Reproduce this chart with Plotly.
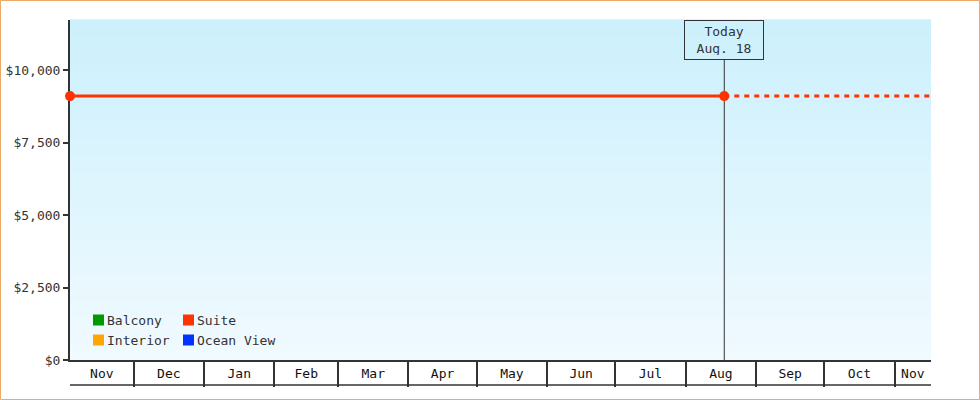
import pandas as pd
import plotly.graph_objects as go

# price history up to today, then the projection out to the end of the range
history_dates = ["2018-11-03", "2019-08-18"]
history_suite = [9100, 9100]
forecast_dates = ["2019-08-18", "2019-11-17"]
forecast_suite = [9100, 9100]

series_names = ["Balcony", "Suite", "Interior", "Ocean View"]
series_colors = ["#009900", "#ff3300", "#ffa500", "#0033ff"]

today = "2019-08-18"
today_label = "Today<br>Aug. 18"

y_ticks = [0, 2500, 5000, 7500, 10000]
y_max = 11724

FONT = "DejaVu Sans Mono"
INK = "#333333"
W, H = 980, 400
ML, MR, MT, MB = 70, 49, 20, 40
PW, PH = W - ML - MR, H - MT - MB

x0, x1 = pd.Timestamp(history_dates[0]), pd.Timestamp(forecast_dates[-1])
month_starts = pd.date_range(x0, x1, freq="MS")
# label each month in the middle of its visible part
edges = [x0] + list(month_starts) + [x1]
label_pos, label_txt = [], []
for a, b in zip(edges[:-1], edges[1:]):
    label_pos.append(a + (b - a) / 2)
    label_txt.append(a.strftime("%b"))

fig = go.Figure()

fig.add_trace(go.Scatter(
    x=history_dates, y=history_suite, mode="lines+markers", name="Suite",
    line=dict(color="#ff3300", width=3),
    marker=dict(size=10, color="#ff3300", line=dict(width=0)),
    showlegend=False, cliponaxis=False))
fig.add_trace(go.Scatter(
    x=forecast_dates, y=forecast_suite, mode="lines", name="Suite forecast",
    line=dict(color="#ff3300", width=3, dash="5px,5px"), showlegend=False))
# invisible trace carrying the label axis
fig.add_trace(go.Scatter(x=[x0, x1], y=[0, 0], xaxis="x2", mode="lines",
                         line=dict(width=0), hoverinfo="skip", showlegend=False))

shapes = []
# vertical background gradient
n = 40
top, bot = (204, 240, 252), (240, 250, 255)
for i in range(n):
    t = i / (n - 1)
    c = tuple(round(bot[k] + (top[k] - bot[k]) * t) for k in range(3))
    shapes.append(dict(type="rect", xref="x domain", yref="y domain",
                       x0=0, x1=1, y0=i / n, y1=(i + 1) / n + 0.002,
                       fillcolor="rgb(%d,%d,%d)" % c, line_width=0, layer="below"))
# today marker line
shapes.append(dict(type="line", xref="x", yref="y domain", x0=today, x1=today,
                   y0=0, y1=1 - 40 / PH, line=dict(color=INK, width=1),
                   layer="below"))
# bottom line of the month band
shapes.append(dict(type="line", xref="x domain", yref="y domain", x0=0, x1=1,
                   y0=-25 / PH, y1=-25 / PH, line=dict(color=INK, width=1.5)))
# outer frame
shapes.append(dict(type="rect", xref="paper", yref="paper",
                   x0=(0.5 - ML) / PW, x1=(W - 0.5 - ML) / PW,
                   y0=(0.5 - MB) / PH, y1=(H - 0.5 - MB) / PH,
                   line=dict(color="#e8aa66", width=1)))

annotations = [dict(xref="x", yref="y domain", x=today, y=1, yanchor="top",
                    text=today_label, showarrow=False, width=70, height=30,
                    borderpad=4, bordercolor=INK, borderwidth=1,
                    font=dict(family=FONT, size=13, color=INK))]

# legend, two columns
for i, (name, col) in enumerate(zip(series_names, series_colors)):
    cx = 23 + (i % 2) * 90
    cy = 40 - (i // 2) * 20
    shapes.append(dict(type="rect", xref="x domain", yref="y domain",
                       x0=cx / PW, x1=(cx + 11) / PW,
                       y0=(cy - 5.5) / PH, y1=(cy + 5.5) / PH,
                       fillcolor=col, line_width=0))
    annotations.append(dict(xref="x domain", yref="y domain", x=(cx + 11) / PW,
                            y=cy / PH, xanchor="left", yanchor="middle",
                            text=name, showarrow=False, xshift=1,
                            font=dict(family=FONT, size=13, color=INK)))

fig.update_layout(
    width=W, height=H, margin=dict(l=ML, r=MR, t=MT, b=MB),
    paper_bgcolor="white", plot_bgcolor="white",
    font=dict(family=FONT, size=13, color=INK),
    shapes=shapes, annotations=annotations, showlegend=False,
    xaxis=dict(type="date", range=[x0, x1], tickvals=list(month_starts),
               showticklabels=False, ticks="outside", ticklen=25, tickwidth=1.5,
               tickcolor=INK, showline=True, linecolor=INK, linewidth=1.5,
               showgrid=False, zeroline=False, automargin=False),
    xaxis2=dict(type="date", range=[x0, x1], overlaying="x", side="bottom",
                tickvals=label_pos, ticktext=label_txt, ticks="outside",
                ticklen=1, tickcolor="rgba(0,0,0,0)", showline=False,
                showgrid=False, zeroline=False, automargin=False,
                tickfont=dict(size=13, color="#111")),
    yaxis=dict(range=[0, y_max], tickvals=y_ticks, tickformat="$,",
               ticks="outside", ticklen=5, tickwidth=2, tickcolor=INK,
               showline=True, linecolor=INK, linewidth=2, layer="below traces",
               showgrid=False, zeroline=False, automargin=False),
)

fig.write_html("out.html", config={"displayModeBar": False},
               post_script="document.body.style.margin='0';")
